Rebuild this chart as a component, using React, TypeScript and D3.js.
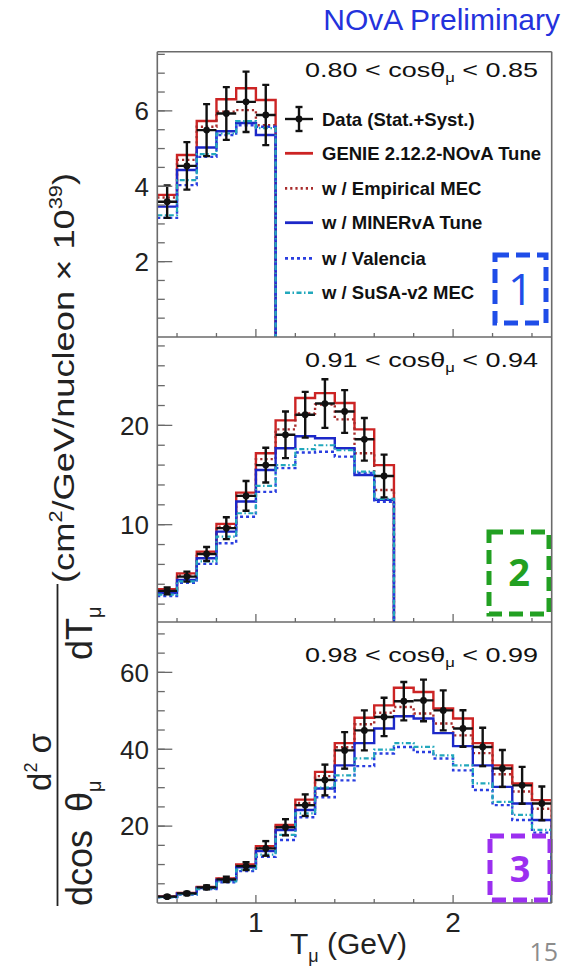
import React from "react";
import * as d3 from "d3";

// ---------- data ----------
const topEdges = [0.5, 0.6, 0.7, 0.8, 0.9, 1.0, 1.1];
const midEdges = [0.5, 0.6, 0.7, 0.8, 0.9, 1.0, 1.1, 1.2, 1.3, 1.4, 1.5, 1.6, 1.7];
const botEdges = [0.5, 0.6, 0.7, 0.8, 0.9, 1.0, 1.1, 1.2, 1.3, 1.4, 1.5, 1.6, 1.7, 1.8, 1.9, 2.0, 2.1, 2.2, 2.3, 2.4, 2.5];

const topData = [3.59, 4.54, 5.49, 5.93, 6.24, 5.89];
const topErr = [0.43, 0.63, 0.69, 0.7, 0.8, 0.8];
const topGenie = [3.77, 4.83, 5.73, 6.31, 6.6, 6.29];
const topEmpMEC = [3.7, 4.7, 5.58, 5.98, 6.02, 5.62];
const topMinerva = [3.46, 4.43, 5.03, 5.46, 5.68, 5.36];
const topValencia = [3.16, 4.03, 4.78, 5.36, 5.62, 5.58];
const topSusa = [3.23, 4.16, 4.85, 5.4, 5.73, 5.54];

const midData = [3.33, 4.77, 7.05, 9.65, 12.9, 16.0, 19.05, 21.07, 22.2, 21.4, 18.6, 14.9];
const midErr = [0.35, 0.5, 0.7, 1.1, 1.5, 1.75, 2.35, 2.3, 2.45, 2.15, 2.15, 2.15];
const midGenie = [3.5, 5.1, 7.29, 10.08, 13.23, 17.2, 20.5, 22.75, 23.25, 22.25, 19.6, 16.0];
const midEmpMEC = [3.4, 4.9, 7.1, 9.8, 12.9, 16.6, 19.6, 21.2, 22.1, 20.6, 17.2, 13.5];
const midMinerva = [3.12, 4.43, 6.62, 9.3, 12.33, 15.5, 17.7, 18.9, 18.7, 17.7, 15.0, 12.5];
const midValencia = [2.82, 4.16, 6.05, 8.13, 10.8, 13.3, 15.7, 17.27, 17.35, 16.85, 15.2, 12.3];
const midSusa = [2.95, 4.3, 6.3, 8.8, 11.15, 13.9, 16.0, 17.6, 18.0, 17.5, 15.35, 12.6];

const botData = [1.65, 2.5, 4.07, 6.15, 9.6, 14.2, 19.7, 25.45, 32.0, 39.7, 44.9, 48.4, 52.5, 52.7, 50.1, 45.4, 40.6, 35.0, 30.6, 25.9];
const botErr = [0.3, 0.4, 0.5, 0.7, 1.0, 1.9, 2.1, 2.8, 4.0, 4.75, 5.2, 5.0, 5.0, 5.4, 5.2, 4.75, 5.0, 4.8, 4.8, 4.4];
const botGenie = [1.7, 2.6, 4.2, 6.4, 10.0, 14.8, 20.3, 26.9, 34.1, 41.6, 48.2, 51.4, 56.0, 54.9, 50.6, 48.0, 41.6, 35.8, 31.1, 26.75];
const botEmpMEC = [1.7, 2.55, 4.1, 6.3, 9.8, 14.5, 19.8, 26.0, 33.0, 40.5, 46.5, 49.5, 51.0, 49.3, 46.7, 43.6, 39.0, 33.5, 29.0, 24.5];
const botMinerva = [1.6, 2.4, 3.9, 6.0, 9.3, 13.5, 19.0, 24.2, 29.8, 35.8, 41.6, 45.4, 48.6, 48.0, 44.2, 40.8, 35.8, 30.2, 25.9, 21.6];
const botValencia = [1.5, 2.2, 3.6, 5.4, 8.3, 12.0, 16.4, 22.3, 27.5, 31.9, 35.6, 38.9, 40.6, 39.3, 37.6, 34.5, 29.4, 25.45, 21.6, 18.3];
const botSusa = [1.55, 2.3, 3.7, 5.6, 8.7, 12.6, 17.7, 23.3, 30.0, 33.2, 37.6, 39.9, 41.6, 40.6, 38.4, 35.8, 31.1, 26.3, 22.9, 19.0];

const legendLabels = [
  "Data (Stat.+Syst.)",
  "GENIE 2.12.2-NOvA Tune",
  "w / Empirical MEC",
  "w / MINERvA Tune",
  "w / Valencia",
  "w / SuSA-v2 MEC",
];
const panelRanges = [
  ["0.80", "0.85"],
  ["0.91", "0.94"],
  ["0.98", "0.99"],
];
const topYTicks = [2, 4, 6];
const midYTicks = [10, 20];
const botYTicks = [20, 40, 60];
const xTickLabels = [1, 2];
const boxLabels = ["1", "2", "3"];

// ---------- styles ----------
const FONT = "'Liberation Sans', Arial, Helvetica, sans-serif";
const modelStyles = [
  { color: "#cc2424", dash: undefined as string | undefined, w: 2.4 },
  { color: "#a82c2c", dash: "2.2,3", w: 2.4 },
  { color: "#1c28c8", dash: undefined, w: 2.4 },
  { color: "#2a3ee0", dash: "3,3", w: 2.4 },
  { color: "#22a8bc", dash: "5,2.5,1.5,2.5", w: 2.2 },
];

const X0 = 157.3;
const X1 = 551.7;

const x = d3.scaleLinear().domain([0.5, 2.5]).range([X0, X1]);

const panels = [
  {
    edges: topEdges,
    data: topData,
    err: topErr,
    models: [topGenie, topEmpMEC, topMinerva, topValencia, topSusa],
    y: d3.scaleLinear().domain([0, 7.57]).range([337, 51.7]),
    yTicks: topYTicks,
    minor: d3.range(0.5, 7.51, 0.5),
    range: panelRanges[0],
    labelY: 77,
    box: { x: 495, y: 255, w: 51, h: 68, color: "#1f4de8", text: boxLabels[0], fs: 44, weight: 400, ty: 305 },
  },
  {
    edges: midEdges,
    data: midData,
    err: midErr,
    models: [midGenie, midEmpMEC, midMinerva, midValencia, midSusa],
    y: d3.scaleLinear().domain([0.2, 28.9]).range([622, 337]),
    yTicks: midYTicks,
    minor: d3.range(2, 28.1, 2),
    range: panelRanges[1],
    labelY: 367,
    box: { x: 489, y: 532, w: 60, h: 82, color: "#22a022", text: boxLabels[1], fs: 38, weight: 700, ty: 586 },
  },
  {
    edges: botEdges,
    data: botData,
    err: botErr,
    models: [botGenie, botEmpMEC, botMinerva, botValencia, botSusa],
    y: d3.scaleLinear().domain([0, 73.1]).range([903, 622]),
    yTicks: botYTicks,
    minor: d3.range(5, 70.1, 5),
    range: panelRanges[2],
    labelY: 662,
    box: { x: 490, y: 836, w: 60, h: 64, color: "#9b2ff0", text: boxLabels[2], fs: 36, weight: 700, ty: 882 },
  },
];

function histPath(edges: number[], vals: number[], y: d3.ScaleLinear<number, number>, base: number) {
  const p = d3.path();
  p.moveTo(x(edges[0]), y(vals[0]));
  for (let i = 0; i < vals.length; i++) {
    p.lineTo(x(edges[i + 1]), y(vals[i]));
    if (i < vals.length - 1) p.lineTo(x(edges[i + 1]), y(vals[i + 1]));
  }
  p.lineTo(x(edges[edges.length - 1]), base);
  return p.toString();
}

const xMinor = d3.range(0.6, 2.41, 0.2);

export default function App() {
  const frame = "#6a6a6a";
  return (
    <svg width={566} height={969} style={{ position: "absolute", left: 0, top: 0, background: "#fff" }} fontFamily={FONT}>
      <rect x={0} y={0} width={566} height={969} fill="#fff" />
      <text x={560} y={30} textAnchor="end" fontSize={30} fill="#2432dc">NOvA Preliminary</text>

      {panels.map((pn, pi) => {
        const [yb, yt] = pn.y.range();
        return (
          <g key={pi}>
            <defs>
              <clipPath id={`clip${pi}`}>
                <rect x={X0} y={yt} width={X1 - X0} height={yb - yt} />
              </clipPath>
            </defs>
            <g clipPath={`url(#clip${pi})`}>
              {pn.models.map((vals, mi) => (
                <path
                  key={mi}
                  d={histPath(pn.edges, vals, pn.y, yb)}
                  fill="none"
                  stroke={modelStyles[mi].color}
                  strokeWidth={modelStyles[mi].w}
                  strokeDasharray={modelStyles[mi].dash}
                />
              ))}
              {pn.data.map((v, i) => {
                const xl = x(pn.edges[i]);
                const xr = x(pn.edges[i + 1]);
                const xc = (xl + xr) / 2;
                const y0 = pn.y(v - pn.err[i]);
                const y1 = pn.y(v + pn.err[i]);
                return (
                  <g key={i} stroke="#111" strokeWidth={2.4}>
                    <line x1={xl} x2={xr} y1={pn.y(v)} y2={pn.y(v)} />
                    <line x1={xc} x2={xc} y1={y0} y2={y1} />
                    <line x1={xc - 3.5} x2={xc + 3.5} y1={y0} y2={y0} />
                    <line x1={xc - 3.5} x2={xc + 3.5} y1={y1} y2={y1} />
                    <circle cx={xc} cy={pn.y(v)} r={3.4} fill="#111" stroke="none" />
                  </g>
                );
              })}
            </g>
            {/* y ticks */}
            {pn.minor.map((t, i) => (
              <line key={"m" + i} x1={X0} x2={X0 + 7.5} y1={pn.y(t)} y2={pn.y(t)} stroke={frame} strokeWidth={1.3} />
            ))}
            {pn.yTicks.map((t, i) => (
              <g key={"M" + i}>
                <line x1={X0} x2={X0 + 15} y1={pn.y(t)} y2={pn.y(t)} stroke={frame} strokeWidth={1.3} />
                <text x={149} y={pn.y(t)} dy="0.36em" textAnchor="end" fontSize={26} fill="#222">{t}</text>
              </g>
            ))}
            {/* x ticks on panel bottom */}
            {xMinor.map((t, i) => {
              const major = Math.abs(t - 1) < 1e-6 || Math.abs(t - 2) < 1e-6;
              return (
                <line key={"x" + i} x1={x(t)} x2={x(t)} y1={yb} y2={yb - (major ? 8 : 4)} stroke={frame} strokeWidth={1.3} />
              );
            })}
            {/* frame */}
            <line x1={X0} x2={X1} y1={yb} y2={yb} stroke={frame} strokeWidth={1.6} />
            {/* panel label */}
            <text x={305} y={pn.labelY} fontSize={21} fill="#111" textLength={233} lengthAdjust="spacingAndGlyphs">
              {pn.range[0]} {"< cosθ"}
              <tspan fontSize={13} dy={5}>μ</tspan>
              <tspan dy={-5}>{" < "}{pn.range[1]}</tspan>
            </text>
            {/* number box */}
            <rect
              x={pn.box.x}
              y={pn.box.y}
              width={pn.box.w}
              height={pn.box.h}
              fill="none"
              stroke={pn.box.color}
              strokeWidth={5}
              strokeDasharray="14,7"
            />
            <text
              x={pn.box.x + pn.box.w / 2}
              y={pn.box.ty}
              textAnchor="middle"
              fontSize={pn.box.fs}
              fontWeight={pn.box.weight}
              fill={pn.box.color}
              fontFamily="'Open Sans', 'Noto Sans', sans-serif"
            >
              {pn.box.text}
            </text>
          </g>
        );
      })}

      {/* outer frame */}
      <line x1={X0} x2={X1} y1={51.7} y2={51.7} stroke={frame} strokeWidth={1.6} />
      <line x1={X0} x2={X0} y1={51.7} y2={903} stroke={frame} strokeWidth={1.6} />
      <line x1={X1} x2={X1} y1={51.7} y2={903} stroke={frame} strokeWidth={1.6} />

      {/* legend */}
      {legendLabels.map((lab, i) => {
        const ly = [119, 153.3, 188.3, 222.7, 258.3, 292.7][i];
        return (
          <g key={i}>
            {i === 0 ? (
              <g stroke="#111" strokeWidth={2.4}>
                <line x1={285} x2={313} y1={ly} y2={ly} />
                <line x1={299} x2={299} y1={ly - 12} y2={ly + 12} />
                <line x1={295.5} x2={302.5} y1={ly - 12} y2={ly - 12} />
                <line x1={295.5} x2={302.5} y1={ly + 12} y2={ly + 12} />
                <circle cx={299} cy={ly} r={3.4} fill="#111" stroke="none" />
              </g>
            ) : (
              <line
                x1={285}
                x2={313}
                y1={ly}
                y2={ly}
                stroke={modelStyles[i - 1].color}
                strokeWidth={modelStyles[i - 1].w + 0.4}
                strokeDasharray={modelStyles[i - 1].dash}
              />
            )}
            <text x={322} y={ly + 6.5} fontSize={18.5} fontWeight={700} fill="#111">{lab}</text>
          </g>
        );
      })}

      {/* x tick labels */}
      {xTickLabels.map((t) => (
        <text key={t} x={x(t)} y={932} textAnchor="middle" fontSize={28} fill="#222">{t}</text>
      ))}
      {/* x title */}
      <text x={290} y={954} fontSize={30} fill="#222">
        T<tspan fontSize={18} dy={8}>μ</tspan>
        <tspan dy={-8}>{" (GeV)"}</tspan>
      </text>

      {/* y title */}
      <text transform="translate(74,378) rotate(-90)" textAnchor="middle" fontSize={30} fill="#222" textLength={410} lengthAdjust="spacingAndGlyphs">
        (cm<tspan fontSize={18} dy={-12}>2</tspan>
        <tspan dy={12}>/GeV/nucleon × 10</tspan>
        <tspan fontSize={18} dy={-12}>39</tspan>
        <tspan dy={12}>)</tspan>
      </text>
      <text transform="translate(51,762) rotate(-90)" textAnchor="middle" fontSize={33} fill="#222">
        d<tspan fontSize={18} dy={-14}>2</tspan>
        <tspan dy={14}>{"  σ"}</tspan>
      </text>
      <line x1={57.5} x2={57.5} y1={584} y2={906} stroke="#222" strokeWidth={1.8} />
      <text transform="translate(92,906) rotate(-90)" fontSize={36} fill="#222">dcos</text>
      <text transform="translate(92,812) rotate(-90)" fontSize={36} fill="#222">
        θ<tspan fontSize={20} dy={9}>μ</tspan>
      </text>
      <text transform="translate(92,660) rotate(-90)" fontSize={36} fill="#222">
        dT<tspan fontSize={20} dy={9}>μ</tspan>
      </text>

      <text x={558} y={961} textAnchor="end" fontSize={25} fill="#8c8c8c" fontFamily="'Open Sans', 'Lato', sans-serif">15</text>
    </svg>
  );
}
